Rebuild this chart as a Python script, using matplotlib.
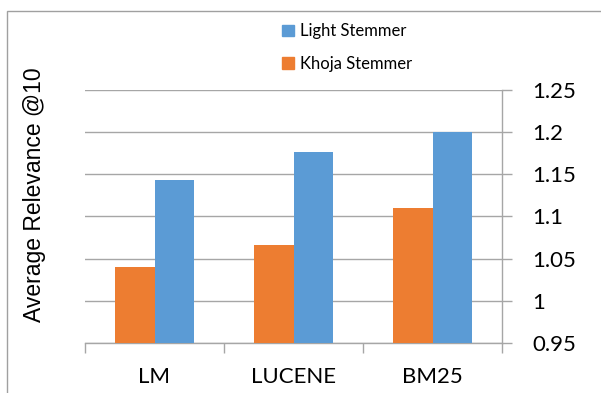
import matplotlib
matplotlib.use("Agg")
import matplotlib.pyplot as plt
from matplotlib.patches import Rectangle, Patch
import numpy as np

categories = ["LM", "LUCENE", "BM25"]
khoja = [1.04, 1.066, 1.110]
light = [1.143, 1.177, 1.200]
yticks = [0.95, 1.0, 1.05, 1.1, 1.15, 1.2, 1.25]
ytick_labels = ["0.95", "1", "1.05", "1.1", "1.15", "1.2", "1.25"]

ORANGE = "#ED7D31"
BLUE = "#5B9BD5"
GRID = "#A6A6A6"
FONT = "Lato"

fig = plt.figure(figsize=(6.01, 3.93), dpi=100)
fig.patches.append(Rectangle((7/601, -0.2), 2, (393-11)/393 + 0.2, transform=fig.transFigure,
                             fill=False, edgecolor="#A0A0A0", linewidth=1.0))
ax = fig.add_axes([85/601, 50/393, 417/601, 253/393])

x = np.arange(len(categories))
w = 1/1.75/2
ax.bar(x - w/2, khoja, width=w, color=ORANGE, zorder=3)
ax.bar(x + w/2, light, width=w, color=BLUE, zorder=3)

ax.set_xlim(-0.5, 2.5)
ax.set_ylim(0.95, 1.25)
ax.yaxis.tick_right()
ax.set_yticks(yticks)
ax.set_yticklabels(ytick_labels, fontsize=16, family=FONT)
ax.tick_params(axis="y", length=7, color=GRID, pad=15, width=1)
ax.grid(axis="y", color=GRID, linewidth=1, zorder=0)

ax.set_xticks(x)
ax.set_xticklabels(categories, fontsize=16, family=FONT)
ax.tick_params(axis="x", length=0, pad=17)
ax.set_xticks([-0.5, 0.5, 1.5, 2.5], minor=True)
ax.tick_params(axis="x", which="minor", length=7, color=GRID, width=1)

for s in ["top", "left"]:
    ax.spines[s].set_visible(False)
for s in ["right", "bottom"]:
    ax.spines[s].set_color(GRID)
    ax.spines[s].set_linewidth(1)

fig.text(35/601, 1 - 195/393, "Average Relevance @10", rotation=90, ha="center", va="center",
         fontsize=16.5, family="Liberation Sans")

handles = [Patch(color=BLUE, label="Light Stemmer"), Patch(color=ORANGE, label="Khoja Stemmer")]
fig.legend(handles=handles, loc="upper left", bbox_to_anchor=(274/601, 1 - 15/393),
           frameon=False, prop={"family": FONT, "size": 12}, handlelength=0.7, handleheight=0.7,
           handletextpad=0.35, labelspacing=1.0, borderpad=0)

fig.savefig("out.png", dpi=100)
